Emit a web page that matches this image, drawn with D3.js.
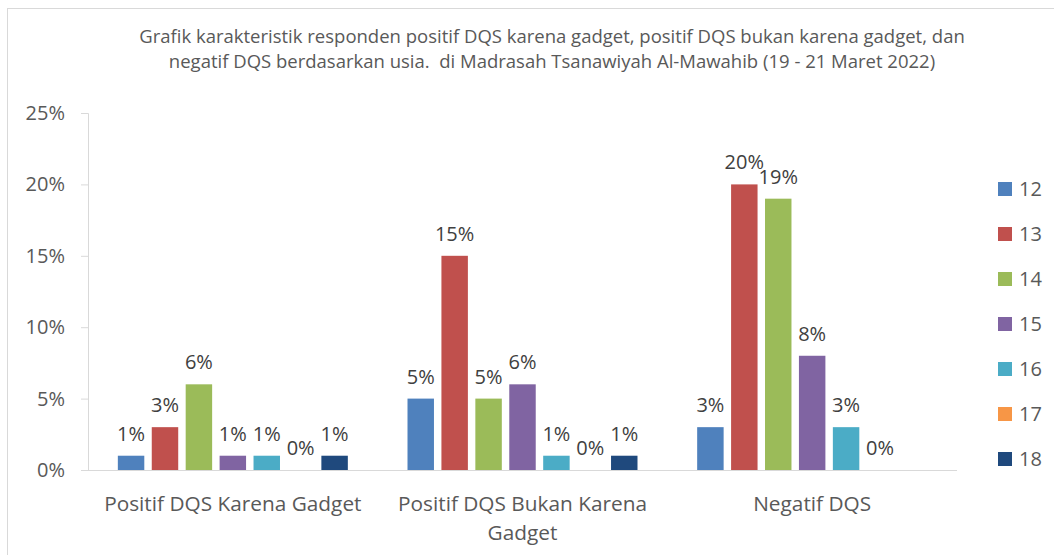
<!DOCTYPE html>
<html>
<head>
<meta charset="utf-8">
<script src="https://cdn.jsdelivr.net/npm/d3@7"></script>
<style>
  body { margin: 0; background: #fff; }
  svg { display: block; font-family: "Open Sans", sans-serif; }
</style>
</head>
<body>
<script>
const categories = [
  ["Positif DQS Karena Gadget"],
  ["Positif DQS Bukan Karena", "Gadget"],
  ["Negatif DQS"],
];
const groupKeys = ["g1", "g2", "g3"];
const seriesNames = ["12", "13", "14", "15", "16", "17", "18"];
const seriesColors = ["#4F81BD", "#C0504D", "#9BBB59", "#8064A2", "#4BACC6", "#F79646", "#1F497D"];
// percent values per series, one entry per category (null = no bar)
const s12 = [1, 5, 3];
const s13 = [3, 15, 20];
const s14 = [6, 5, 19];
const s15 = [1, 6, 8];
const s16 = [1, 1, 3];
const s17 = [0, 0, 0];
const s18 = [1, 1, null];
const yTicks = [0, 5, 10, 15, 20, 25];
const titleLines = [
  "Grafik karakteristik responden positif DQS karena gadget, positif DQS bukan karena gadget, dan",
  "negatif DQS berdasarkan usia.  di Madrasah Tsanawiyah Al-Mawahib (19 - 21 Maret 2022)",
];

const series = [s12, s13, s14, s15, s16, s17, s18];

const W = 1054, H = 555;
const svg = d3.select("body").append("svg").attr("width", W).attr("height", H);

// chart border
svg.append("rect")
  .attr("x", 7.5).attr("y", 8.5)
  .attr("width", W).attr("height", H)
  .attr("fill", "none").attr("stroke", "#d9d9d9");

// title
svg.append("g")
  .selectAll("text")
  .data(titleLines)
  .enter()
  .append("text")
  .attr("x", 552)
  .attr("y", (d, i) => 43 + i * 25)
  .attr("text-anchor", "middle")
  .style("font-size", "18.5px")
  .style("fill", "#595959")
  .attr("xml:space", "preserve")
  .text((d) => d);

const plotLeft = 88, plotRight = 957, plotTop = 113, plotBottom = 470;

const y = d3.scaleLinear().domain([0, 25]).range([plotBottom, plotTop]);
const x0 = d3.scaleBand().domain(groupKeys).range([plotLeft, plotRight])
  .paddingInner(0.206).paddingOuter(0.103);
const x1 = d3.scaleBand().domain(seriesNames).range([0, x0.bandwidth()])
  .paddingInner(0.22).paddingOuter(0);

// y axis
const yAxis = svg.append("g")
  .attr("transform", "translate(" + plotLeft + ",0)")
  .call(d3.axisLeft(y).tickValues(yTicks).tickFormat((d) => d + "%").tickSize(7).tickPadding(16));
yAxis.select(".domain").attr("stroke", "#d9d9d9");
yAxis.selectAll(".tick line").attr("stroke", "#d9d9d9");
yAxis.selectAll(".tick text")
  .style("font-size", "20px")
  .style("font-family", "'Open Sans', sans-serif")
  .attr("fill", "#595959");

// x axis line
svg.append("line")
  .attr("x1", plotLeft).attr("x2", plotRight)
  .attr("y1", plotBottom + 0.5).attr("y2", plotBottom + 0.5)
  .attr("stroke", "#d9d9d9");

// bars
const barData = [];
groupKeys.forEach((g, gi) => {
  seriesNames.forEach((s, si) => {
    const v = series[si][gi];
    if (v !== null) barData.push({ g, s, si, v });
  });
});

svg.selectAll("rect.bar")
  .data(barData)
  .enter()
  .append("rect")
  .attr("class", "bar")
  .attr("x", (d) => x0(d.g) + x1(d.s))
  .attr("y", (d) => y(d.v))
  .attr("width", x1.bandwidth())
  .attr("height", (d) => plotBottom - y(d.v))
  .attr("fill", (d) => seriesColors[d.si]);

svg.selectAll("text.lbl")
  .data(barData)
  .enter()
  .append("text")
  .attr("class", "lbl")
  .attr("x", (d) => x0(d.g) + x1(d.s) + x1.bandwidth() / 2)
  .attr("y", (d) => y(d.v) - 15)
  .attr("text-anchor", "middle")
  .style("font-size", "20px")
  .style("fill", "#404040")
  .text((d) => d.v + "%");

// category labels
const cat = svg.append("g")
  .selectAll("text")
  .data(categories)
  .enter()
  .append("text")
  .attr("x", (d, i) => x0(groupKeys[i]) + x0.bandwidth() / 2)
  .attr("y", 511)
  .attr("text-anchor", "middle")
  .style("font-size", "20.8px")
  .style("fill", "#595959");
cat.selectAll("tspan")
  .data((d) => d)
  .enter()
  .append("tspan")
  .attr("x", function () { return d3.select(this.parentNode).attr("x"); })
  .attr("dy", (d, i) => (i === 0 ? 0 : 29))
  .text((d) => d);

// legend
const legend = svg.append("g").attr("transform", "translate(998,182)");
const item = legend.selectAll("g")
  .data(seriesNames)
  .enter()
  .append("g")
  .attr("transform", (d, i) => "translate(0," + i * 45 + ")");
item.append("rect")
  .attr("width", 14).attr("height", 14)
  .attr("fill", (d, i) => seriesColors[i]);
item.append("text")
  .attr("x", 21).attr("y", 7)
  .attr("dy", "0.35em")
  .style("font-size", "20px")
  .style("fill", "#595959")
  .text((d) => d);
</script>
</body>
</html>
